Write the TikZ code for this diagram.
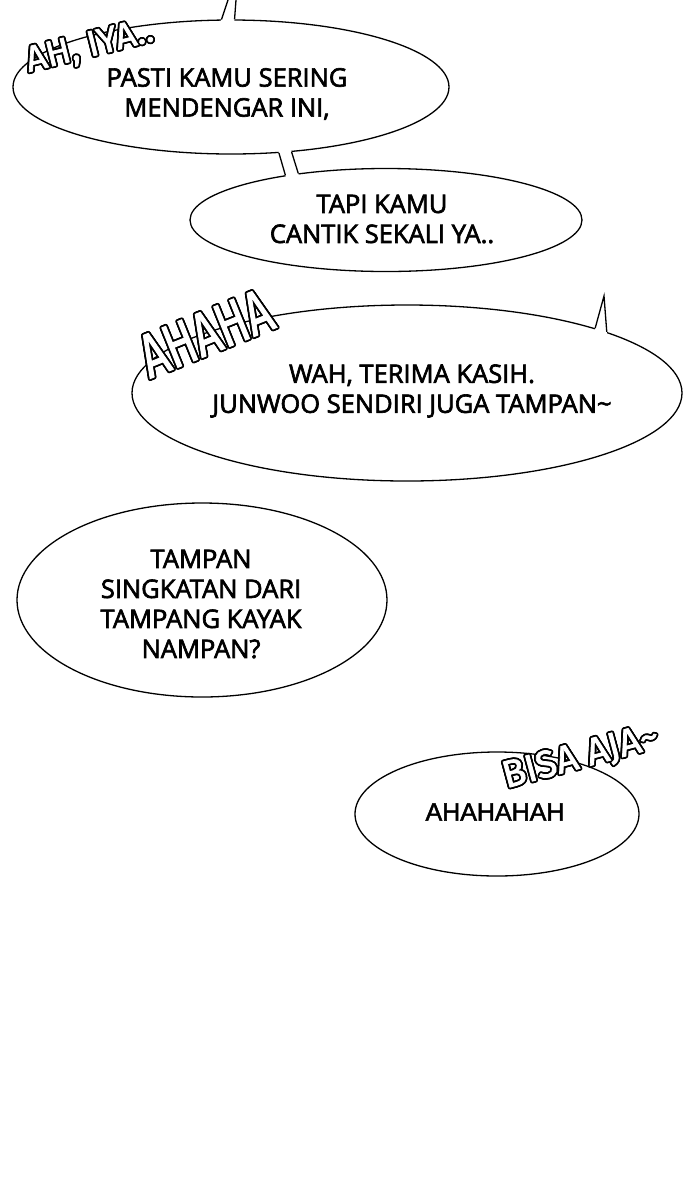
\documentclass[tikz,border=0pt]{standalone}
\usepackage{fontspec}
\setmainfont[FakeBold=2.5]{Open Sans}
\newfontfamily\sfxfont[FakeBold=2]{Fira Sans}
\newfontfamily\thinsfxfont[FakeStretch=0.72,FakeBold=1.5]{Fira Sans}
\newfontfamily\laughfont[FakeBold=2]{Liberation Sans}
\usepackage[copies]{contour}
\contourlength{1.8pt}
\usetikzlibrary{shapes.geometric,calc}
\begin{document}
\begin{tikzpicture}[x=1pt,y=-1pt,
    bubble/.style={ellipse,draw,fill=white,line width=1.3pt,inner sep=0pt},
    speech/.style={align=center,font=\fontsize{25.5}{30}\selectfont},
    sfx/.style={text=white,inner sep=0pt,font=\sfxfont\fontsize{#1}{#1}\selectfont},
    tail/.style={line width=1.3pt}]
  \fill[white] (0,0) rectangle (700,1195);
  \useasboundingbox (0,0) rectangle (700,1195);
  % bubbles
  \node[bubble,minimum width=436pt,minimum height=134pt] (b1) at (231,87) {};
  \node[bubble,minimum width=392pt,minimum height=103pt] (b2) at (386,220) {};
  \node[bubble,minimum width=550pt,minimum height=176pt] (b3) at (407,393) {};
  \node[bubble,minimum width=370pt,minimum height=194pt] (b4) at (202,600) {};
  \node[bubble,minimum width=284pt,minimum height=124pt] (b5) at (497,814) {};
  % tails
  \coordinate (top1) at (228,0);
  \coordinate (top2) at (236,0);
  \coordinate (tip) at (604,296);
  \begin{scope}[white]
    \fill ($(b1.98)!-4pt!(top1)$) -- (top1) -- (top2) -- ($(b1.87)!-4pt!(top2)$) -- cycle;
    \fill ($(b1.-54)!-4pt!(b2.156)$) -- ($(b2.156)!-4pt!(b1.-54)$)
      -- ($(b2.152)!-4pt!(b1.-47)$) -- ($(b1.-47)!-4pt!(b2.152)$) -- cycle;
    \fill ($(b3.19)!-4pt!(tip)$) -- (tip) -- ($(b3.17)!-4pt!(tip)$) -- cycle;
  \end{scope}
  \begin{scope}[tail]
    \draw (b1.98) -- (top1);
    \draw (b1.87) -- (top2);
    \draw (b1.-54) -- (b2.156);
    \draw (b1.-47) -- (b2.152);
    \draw (b3.19) -- (tip) -- (b3.17);
  \end{scope}
  % texts
  \node[speech] (t1) at (227,94) {PASTI KAMU SERING\\MENDENGAR INI,};
  \node[speech] (t2) at (382,219) {TAPI KAMU\\CANTIK SEKALI YA..};
  \node[speech] (t3) at (412,391) {WAH, TERIMA KASIH.\\JUNWOO SENDIRI JUGA TAMPAN\textasciitilde};
  \node[speech] (t4) at (201,604) {TAMPAN\\SINGKATAN DARI\\TAMPANG KAYAK\\NAMPAN?};
  \node[font=\laughfont\fontsize{25}{30}\selectfont] (t5) at (495,812) {AHAHAHAH};
  % sound effects
  \node[sfx=36,rotate=14] (s1) at (90,48) {\contour{black}{AH, IYA..}};
  \node[sfx=62,rotate=22,font=\thinsfxfont\fontsize{62}{62}\selectfont] (s2) at (206,334) {\contour{black}{AHAHA}};
  \node[sfx=38,rotate=15] (s3) at (581,758) {\contour{black}{BISA AJA\textasciitilde}};
\end{tikzpicture}
\end{document}
